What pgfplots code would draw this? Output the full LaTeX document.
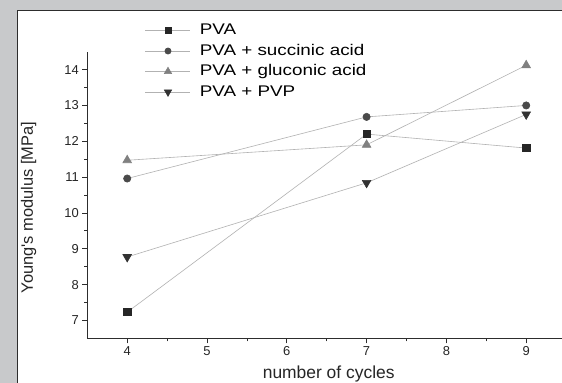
\documentclass[border=0pt]{standalone}
\usepackage{pgfplots}
\pgfplotsset{compat=1.18}
\usepackage{fontspec}
\setmainfont{Liberation Sans}
\newfontfamily\legfont[FakeStretch=1.22]{Liberation Sans}
\definecolor{bg}{RGB}{200,201,203}
\definecolor{frame}{RGB}{45,45,45}
\definecolor{ln}{RGB}{178,178,178}
\definecolor{c1}{RGB}{38,38,38}
\definecolor{c2}{RGB}{74,74,74}
\definecolor{c3}{RGB}{128,128,128}
\definecolor{c4}{RGB}{50,50,50}
\begin{document}
\begin{tikzpicture}
\useasboundingbox (0,0) rectangle (562bp,383bp);
\clip (0,0) rectangle (562bp,383bp);
\fill[bg] (0,0) rectangle (562bp,383bp);
\filldraw[fill=white, draw=frame, line width=1.2bp] (17.3bp,372.3bp) rectangle (640bp,-60bp);
\begin{axis}[
  at={(87.3bp,44.7bp)}, anchor=south west,
  scale only axis, width=478.8bp, height=286.6bp,
  xmin=3.5, xmax=9.5, ymin=6.5, ymax=14.5,
  axis x line*=bottom, axis y line*=left,
  axis line style={-, draw=frame, line width=1bp},
  xtick={4,5,6,7,8,9}, ytick={7,8,9,10,11,12,13,14},
  minor x tick num=1, minor y tick num=1,
  tick align=outside, major tick length=5bp, minor tick length=3bp,
  tick style={draw=frame, line width=0.8bp},
  /pgf/number format/assume math mode=true,
  ticklabel style={font=\fontsize{13}{15}\selectfont, text=black!85},
  clip=false,
  legend style={at={(0.1205,1.099)}, anchor=north west, draw=none, fill=none,
    inner sep=0pt, row sep=6.5bp, column sep=5bp,
    font=\legfont\fontsize{15.5}{18}\selectfont,
    nodes={text height=11bp, text depth=3bp, inner ysep=0pt, inner xsep=4bp}},
  legend cell align=left,
  legend image code/.code={\draw[mark repeat=2,mark phase=2] plot coordinates {(0bp,0bp)(22.5bp,0bp)(45bp,0bp)};},
  legend image post style={every mark/.append style={scale=0.85}},
]
\addplot[color=ln, line width=0.6bp, mark=square*, mark size=3.65bp, mark options={draw=c1, fill=c1}]
  coordinates {(4,7.23) (7,12.2) (9,11.81)};
\addlegendentry{PVA}
\addplot[color=ln, line width=0.6bp, mark=*, mark size=3.65bp, mark options={draw=c2, fill=c2}]
  coordinates {(4,10.96) (7,12.68) (9,13.0)};
\addlegendentry{PVA + succinic acid}
\addplot[color=ln, line width=0.6bp, mark=triangle*, mark size=5bp, mark options={draw=c3, fill=c3}]
  coordinates {(4,11.47) (7,11.9) (9,14.12)};
\addlegendentry{PVA + gluconic acid}
\addplot[color=ln, line width=0.6bp, mark=triangle*, mark size=5bp, mark options={draw=c4, fill=c4, rotate=180}]
  coordinates {(4,8.77) (7,10.84) (9,12.75)};
\addlegendentry{PVA + PVP}
\end{axis}
\node[rotate=90, font=\fontsize{16.5}{19}\selectfont, text=black!85] at (28.5bp,175.5bp) {Young\textquotesingle s modulus [MPa]};
\node[anchor=base, font=\fontsize{17.5}{21}\selectfont, text=black!85, inner sep=0pt] at (328.7bp,4.2bp) {number of cycles};
\end{tikzpicture}
\end{document}
